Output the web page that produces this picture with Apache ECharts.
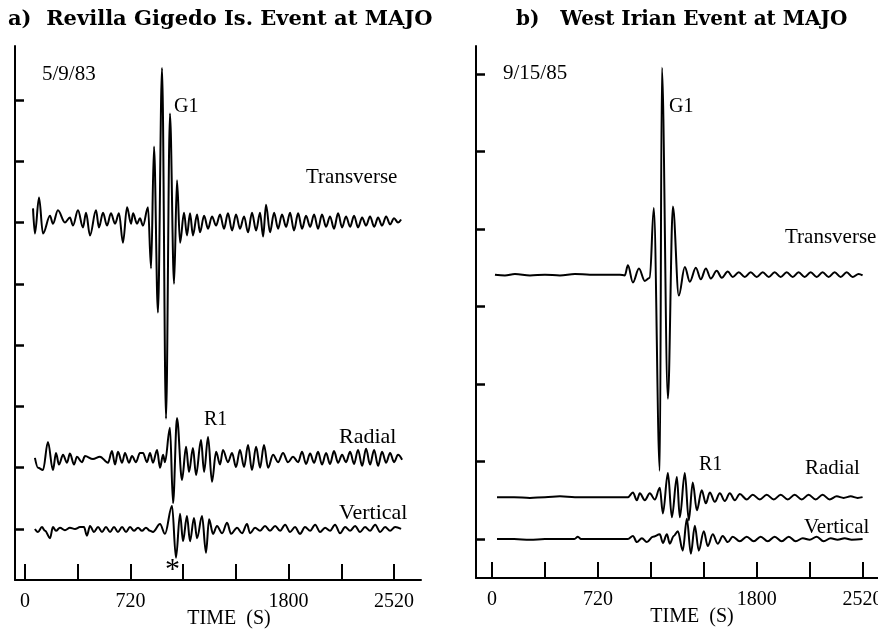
<!DOCTYPE html>
<html>
<head>
<meta charset="utf-8">
<script src="https://cdn.jsdelivr.net/npm/echarts@6/dist/echarts.min.js"></script>
<style>
  html, body { margin: 0; padding: 0; background: #fff; }
  #chart { width: 878px; height: 630px; }
</style>
</head>
<body>
<div id="chart"></div>
<script>
// Time axis (seconds) and tick marks shared by both record sections
const timeTicks = [0, 360, 720, 1080, 1440, 1800, 2160, 2520];
const timeLabels = [0, 720, 1800, 2520];
const traceTicksA = [1, 2, 3, 4, 5, 6, 7, 8];
const traceTicksB = [1, 2, 3, 4, 5, 6, 7];

// Trace baselines (in trace-spacing units)
const offsetsA = { transverse: 6.0, radial: 2.16, vertical: 1.0 };
const offsetsB = { transverse: 4.41, radial: 1.54, vertical: 1.0 };

// a) Revilla Gigedo Is. event, 5/9/83 — [time s, amplitude]
const transverseA = [
  [55,0.23],[68,-0.18],[96,0.41],[123,-0.18],[171,0.11],[191,-0.02],[225,0.20],[273,0.0],
  [307,0.08],[328,-0.05],[362,0.20],[396,-0.08],[417,0.16],[444,-0.21],[485,0.20],[505,-0.08],
  [533,0.16],[560,-0.05],[587,0.15],[615,-0.02],[642,0.15],[669,-0.33],[697,0.25],[724,-0.02],
  [738,0.15],[765,-0.02],[785,0.07],[806,-0.05],[840,0.25],[861,-0.75],[881,1.24],[908,-1.47],
  [936,2.52],[963,-3.20],[990,1.78],[1018,-1.0],[1038,0.69],[1059,-0.33],[1086,0.16],[1106,-0.21],
  [1127,0.15],[1147,-0.21],[1175,0.13],[1195,-0.16],[1223,0.11],[1250,-0.10],[1277,0.10],[1305,-0.05],
  [1332,0.13],[1359,-0.10],[1386,0.15],[1414,-0.13],[1441,0.13],[1468,-0.10],[1496,0.10],[1523,-0.16],
  [1550,0.16],[1578,-0.13],[1605,0.16],[1626,-0.23],[1646,0.29],[1673,-0.16],[1701,0.16],[1728,-0.10],
  [1755,0.13],[1783,-0.07],[1810,0.16],[1837,-0.13],[1865,0.15],[1892,-0.10],[1919,0.11],[1947,-0.07],
  [1974,0.13],[2001,-0.10],[2028,0.13],[2056,-0.07],[2083,0.10],[2110,-0.10],[2138,0.15],[2165,-0.08],
  [2192,0.10],[2220,-0.07],[2247,0.11],[2274,-0.08],[2302,0.08],[2329,-0.05],[2356,0.10],[2384,-0.07],
  [2411,0.08],[2438,-0.05],[2466,0.10],[2493,-0.03],[2520,0.07],[2547,0.0],[2568,0.05]
];
const radialA = [
  [68,0],[89,-0.16],[123,-0.20],[157,0.26],[191,-0.20],[212,0.08],[232,-0.11],[260,0.05],
  [287,-0.08],[307,0.07],[335,-0.11],[355,0.02],[389,-0.07],[410,0.03],[464,-0.02],[512,0.02],
  [567,-0.08],[594,0.11],[615,-0.11],[635,0.10],[663,-0.08],[683,0.08],[710,-0.08],[731,0.03],
  [758,-0.07],[785,0.08],[806,0.08],[833,-0.07],[854,0.08],[874,-0.08],[902,0.13],[922,-0.16],
  [943,0.05],[956,-0.07],[990,0.49],[1011,-0.74],[1038,0.65],[1072,-0.36],[1100,0.18],[1120,-0.23],
  [1147,0.16],[1168,-0.28],[1202,0.29],[1223,-0.23],[1250,0.34],[1277,-0.39],[1305,0.10],[1332,-0.11],
  [1352,0.13],[1386,-0.07],[1414,0.08],[1441,-0.15],[1468,0.13],[1496,-0.15],[1523,0.21],[1550,-0.20],
  [1578,0.18],[1605,-0.16],[1632,0.21],[1660,-0.16],[1694,0.05],[1728,-0.07],[1762,0.08],[1796,-0.07],
  [1830,0.02],[1865,-0.07],[1892,0.10],[1919,-0.10],[1947,0.07],[1974,-0.08],[2001,0.10],[2028,-0.11],
  [2056,0.08],[2083,-0.10],[2110,0.11],[2138,-0.08],[2165,0.05],[2192,-0.07],[2220,0.10],[2247,-0.10],
  [2274,0.13],[2302,-0.13],[2329,0.15],[2356,-0.11],[2384,0.13],[2411,-0.13],[2438,0.10],[2466,-0.08],
  [2493,0.08],[2520,-0.07],[2547,0.05],[2575,-0.03]
];
const verticalA = [
  [68,0],[89,-0.05],[116,0.03],[137,-0.03],[171,-0.15],[191,0.03],[212,-0.03],[239,0.02],
  [273,-0.02],[307,0.02],[342,0],[376,0.03],[403,0.03],[423,-0.11],[444,0.05],[471,-0.05],
  [499,0.03],[526,-0.05],[553,0.03],[581,-0.05],[608,0.03],[635,-0.05],[663,0.03],[690,-0.05],
  [717,0.03],[744,-0.03],[772,0.02],[799,-0.03],[826,0.02],[854,-0.03],[874,-0.05],[922,0.08],
  [956,-0.08],[1004,0.38],[1031,-0.47],[1059,0.25],[1079,-0.20],[1106,0.21],[1127,-0.20],[1154,0.18],
  [1175,-0.15],[1209,0.21],[1236,-0.39],[1257,0.16],[1284,-0.08],[1311,0.05],[1346,-0.07],[1380,0.10],
  [1407,-0.08],[1448,0.02],[1482,-0.07],[1516,0.08],[1537,-0.07],[1571,0.02],[1605,-0.03],[1639,0.05],
  [1673,-0.03],[1708,0.05],[1742,-0.03],[1776,0.07],[1810,-0.05],[1844,0.03],[1878,-0.08],[1912,0.03],
  [1947,-0.03],[1981,0.07],[2015,-0.05],[2049,0.02],[2083,-0.03],[2117,0.07],[2151,-0.07],[2186,0.03],
  [2220,-0.03],[2254,0.05],[2288,-0.05],[2322,0.03],[2356,-0.03],[2391,0.07],[2425,-0.05],[2459,0.03],
  [2493,-0.03],[2527,0.03],[2568,0]
];

// b) West Irian event, 9/15/85 — [time s, amplitude]
const transverseB = [
  [20,0],[88,-0.01],[156,0.01],[258,-0.01],[360,0],[462,-0.01],[564,0.01],[666,0],[768,0],[870,0],
  [903,-0.01],[924,0.12],[958,-0.10],[999,0.08],[1039,-0.08],[1073,-0.04],[1100,0.86],[1141,-2.53],
  [1155,2.67],[1196,-1.60],[1230,0.88],[1270,-0.27],[1311,0.10],[1345,-0.09],[1386,0.09],[1420,-0.06],
  [1454,0.08],[1488,-0.05],[1528,0.05],[1562,-0.04],[1603,0.04],[1637,-0.03],[1678,0.03],[1719,-0.03],
  [1759,0.03],[1800,-0.03],[1841,0.03],[1882,-0.03],[1922,0.03],[1963,-0.03],[2004,0.03],[2045,-0.03],
  [2085,0.03],[2126,-0.03],[2167,0.03],[2208,-0.03],[2248,0.03],[2289,-0.03],[2330,0.03],[2371,-0.03],
  [2412,0.03],[2452,-0.03],[2493,0.01],[2520,-0.01]
];
const radialB = [
  [34,0],[150,0],[258,-0.01],[360,0],[462,0.01],[564,0],[666,0],[768,0],[870,0],[924,0],[958,0.06],[985,-0.04],[1005,0.05],
  [1039,-0.04],[1073,0.05],[1107,-0.03],[1141,0.12],[1162,-0.21],[1196,0.31],[1223,-0.26],[1257,0.26],
  [1277,-0.26],[1311,0.31],[1338,-0.30],[1365,0.19],[1393,-0.17],[1426,0.09],[1454,-0.08],[1481,0.06],
  [1515,-0.06],[1549,0.05],[1583,-0.05],[1617,0.05],[1651,-0.04],[1685,0.04],[1732,-0.03],[1773,0.03],
  [1821,-0.03],[1868,0.03],[1916,-0.03],[1963,0.03],[2011,-0.03],[2058,0.03],[2106,-0.03],[2153,0.03],
  [2201,-0.03],[2248,0.03],[2296,-0.03],[2344,0.01],[2391,-0.01],[2439,0.01],[2486,-0.01],[2520,0]
];
const verticalB = [
  [34,0],[150,0],[258,-0.01],[360,0],[462,0],[560,0],[584,0.03],[605,0],[632,0],[870,0],[924,0],[958,0.04],[985,-0.04],[1019,0.01],
  [1053,-0.04],[1094,0.03],[1141,0.06],[1162,-0.05],[1189,0.06],[1209,-0.06],[1236,0.04],[1264,0.10],
  [1297,-0.15],[1325,0.26],[1352,-0.19],[1379,0.17],[1406,-0.15],[1440,0.10],[1467,-0.09],[1501,0.06],
  [1535,-0.06],[1569,0.04],[1603,-0.04],[1637,0.03],[1685,-0.03],[1732,0.03],[1780,-0.03],[1827,0.03],
  [1875,-0.03],[1922,0.03],[1970,-0.03],[2018,0.03],[2065,-0.03],[2113,0.01],[2160,-0.01],[2208,0.03],
  [2255,-0.03],[2303,0.01],[2350,-0.01],[2398,0.01],[2446,-0.01],[2520,0]
];

const SERIF = '"Liberation Serif", "Times New Roman", serif';
const INK = '#000';

function trace(points, offset, gi) {
  return {
    type: 'line',
    xAxisIndex: gi, yAxisIndex: gi,
    data: points.map(p => [p[0], offset + p[1]]),
    showSymbol: false, symbol: 'none',
    smooth: 0.35, smoothMonotone: 'x',
    lineStyle: { color: INK, width: 2 },
    silent: true, animation: false
  };
}

function timeAxis(gi, min, max, namePad) {
  return {
    type: 'value', gridIndex: gi, min: min, max: max,
    axisLine: { onZero: false, lineStyle: { color: INK, width: 2 } },
    axisTick: { inside: true, length: 16, customValues: timeTicks, lineStyle: { color: INK, width: 2 } },
    axisLabel: { customValues: timeLabels, formatter: v => String(v), color: INK,
      fontFamily: SERIF, fontSize: 20, margin: 12 },
    splitLine: { show: false },
    name: 'TIME  (S)', nameLocation: 'middle', nameGap: 29, nameMoveOverlap: false,
    nameTextStyle: { color: INK, fontFamily: SERIF, fontSize: 20, padding: [0, 0, 0, namePad] }
  };
}

function traceAxis(gi, min, max, ticks) {
  return {
    type: 'value', gridIndex: gi, min: min, max: max,
    axisLine: { show: true, onZero: false, lineStyle: { color: INK, width: 2 } },
    axisTick: { show: true, inside: true, length: 9, customValues: ticks, lineStyle: { color: INK, width: 2.5 } },
    axisLabel: { show: false },
    splitLine: { show: false }
  };
}

function label(text, x, y, size, extra) {
  return Object.assign({
    type: 'text', silent: true,
    style: { text: text, x: x, y: y, fill: INK, font: size + 'px ' + SERIF, textVerticalAlign: 'middle' }
  }, extra || {});
}

const chart = echarts.init(document.getElementById('chart'), null, { renderer: 'canvas' });
chart.setOption({
  animation: false,
  backgroundColor: '#fff',
  grid: [
    { left: 15, right: 457, top: 46, bottom: 50, containLabel: false, outerBoundsMode: 'none' },
    { left: 476, right: -14, top: 46, bottom: 52, containLabel: false, outerBoundsMode: 'none' }
  ],
  xAxis: [ timeAxis(0, -68, 2704, 22), timeAxis(1, -109, 2720, 16) ],
  yAxis: [ traceAxis(0, 0.167, 8.88, traceTicksA), traceAxis(1, 0.497, 7.36, traceTicksB) ],
  series: [
    trace(transverseA, offsetsA.transverse, 0),
    trace(radialA, offsetsA.radial, 0),
    trace(verticalA, offsetsA.vertical, 0),
    trace(transverseB, offsetsB.transverse, 1),
    trace(radialB, offsetsB.radial, 1),
    trace(verticalB, offsetsB.vertical, 1)
  ],
  graphic: [
    { type: 'text', silent: true, style: { text: 'a)  Revilla Gigedo Is. Event at MAJO', x: 8, y: 20, fill: INK,
      font: 'bold 21px "DejaVu Serif", serif', textVerticalAlign: 'middle' } },
    { type: 'text', silent: true, style: { text: 'b)   West Irian Event at MAJO', x: 516, y: 20, fill: INK,
      font: 'bold 20px "DejaVu Serif", serif', textVerticalAlign: 'middle' } },
    label('5/9/83', 42, 74, 21),
    label('G1', 174, 107, 20),
    label('Transverse', 306, 177, 21),
    label('R1', 204, 420, 20),
    label('Radial', 339, 437, 22),
    label('Vertical', 339, 513, 22),
    label('*', 165, 570, 30),
    label('9/15/85', 503, 73, 21),
    label('G1', 669, 107, 20),
    label('Transverse', 785, 237, 21),
    label('R1', 699, 465, 20),
    label('Radial', 805, 468, 21),
    label('Vertical', 804, 527, 21)
  ]
});
</script>
</body>
</html>
